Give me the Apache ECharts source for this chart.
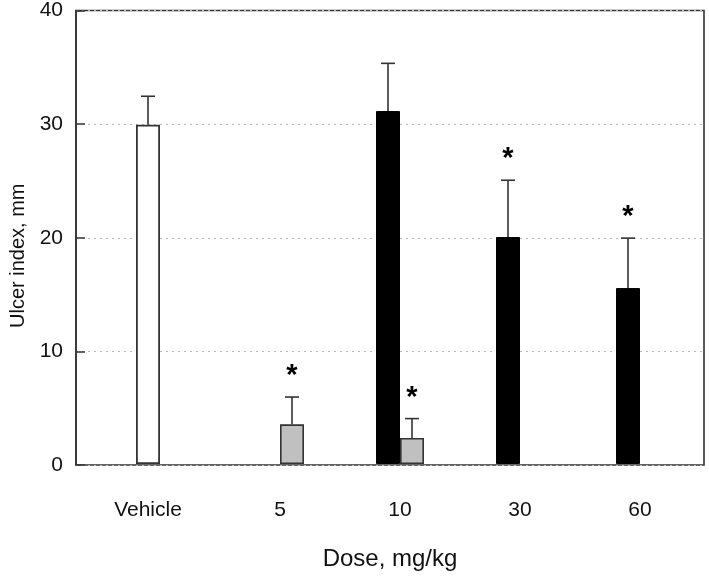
<!DOCTYPE html>
<html>
<head>
<meta charset="utf-8">
<script src="https://cdn.jsdelivr.net/npm/echarts@6/dist/echarts.min.js"></script>
<style>
html,body{margin:0;padding:0;background:#fff;}
#chart{width:709px;height:576px;}
</style>
</head>
<body>
<div id="chart"></div>
<script>
// ---- data ----
var categories = ['Vehicle', '5', '10', '30', '60'];
var mainMean = [29.9, null, 31.1, 20.0, 15.5];   // Vehicle (white) and black bars
var mainSem  = [2.5, null, 4.2, 5.0, 4.4];
var mainSig  = [false, false, false, true, true];
var greyMean = [null, 3.5, 2.3, null, null];      // grey bars
var greySem  = [null, 2.4, 1.7, null, null];
var greySig  = [false, true, true, false, false];

var FONT = '"Liberation Sans", Arial, sans-serif';

var mainData = mainMean.map(function (v, i) {
  if (v == null) return '-';
  return {
    value: v,
    itemStyle: i === 0 ? { color: '#ffffff', borderColor: '#333', borderWidth: 1.8 }
                       : { color: '#000000', borderColor: '#000', borderWidth: 1 }
  };
});
var greyData = greyMean.map(function (v) { return v == null ? '-' : v; });

var errData = [];
mainMean.forEach(function (v, i) {
  if (v != null) errData.push([i, v, v + mainSem[i], -1, mainSig[i] ? 1 : 0]);
});
greyMean.forEach(function (v, i) {
  if (v != null) errData.push([i, v, v + greySem[i], 1, greySig[i] ? 1 : 0]);
});

function renderErr(params, api) {
  var cat = api.value(0), mean = api.value(1), top = api.value(2), side = api.value(3), sig = api.value(4);
  var p0 = api.coord([cat, mean]);
  var p1 = api.coord([cat, top]);
  var x = p0[0] + side * 12;
  var children = [
    { type: 'line', shape: { x1: x, y1: p0[1], x2: x, y2: p1[1] }, style: { stroke: '#333', lineWidth: 1.6 } },
    { type: 'line', shape: { x1: x - 7, y1: p1[1], x2: x + 7, y2: p1[1] }, style: { stroke: '#333', lineWidth: 1.6 } }
  ];
  if (sig) {
    children.push({
      type: 'text',
      style: { text: '*', x: x, y: p1[1] - 21, align: 'center', verticalAlign: 'middle',
               font: 'bold 29px ' + FONT, fill: '#000' }
    });
  }
  return { type: 'group', children: children };
}

var chart = echarts.init(document.getElementById('chart'), null, { renderer: 'canvas' });
chart.setOption({
  backgroundColor: '#fff',
  animation: false,
  grid: [
    { left: 76, top: 10, width: 628, height: 455, show: true, borderColor: '#333', borderWidth: 1.6, backgroundColor: 'transparent' },
    { left: 100, top: 10, width: 600, height: 455 }
  ],
  xAxis: [
    { gridIndex: 0, type: 'value', min: 0, max: 1, show: false },
    {
      gridIndex: 1, type: 'category', data: categories,
      axisLine: { show: false }, axisTick: { show: false },
      axisLabel: {
        interval: 0, hideOverlap: false,
        margin: 36, fontSize: 21, color: '#111', fontFamily: FONT,
        formatter: function (v) { return v === 'Vehicle' ? '{v|' + v + '}' : v; },
        rich: { v: { fontSize: 21, color: '#111', fontFamily: FONT, padding: [0, 24, 0, 0] } }
      },
      name: 'Dose, mg/kg', nameLocation: 'middle', nameGap: 83,
      nameTextStyle: { fontSize: 24, color: '#111', fontFamily: FONT, padding: [0, 20, 0, 0] }
    }
  ],
  yAxis: [
    {
      gridIndex: 0, type: 'value', min: 0, max: 40, interval: 10,
      axisLine: { show: true, lineStyle: { color: '#333', width: 1.6 } },
      axisTick: { show: true, inside: true, length: 9, lineStyle: { color: '#333', width: 1.5 } },
      axisLabel: { margin: 13, fontSize: 21, color: '#111', fontFamily: FONT },
      splitLine: { show: true, lineStyle: { color: '#bbb', type: [2, 4], width: 1 } },
      name: 'Ulcer index, mm', nameLocation: 'middle', nameGap: 48, nameRotate: 90,
      nameTextStyle: { fontSize: 20, color: '#111', fontFamily: FONT, padding: [0, 36, 0, 0] }
    },
    { gridIndex: 1, type: 'value', min: 0, max: 40, interval: 10, show: false, splitLine: { show: false } }
  ],
  series: [
    { type: 'bar', xAxisIndex: 1, yAxisIndex: 1, data: mainData, barWidth: 24, barGap: '0%', z: 3 },
    { type: 'bar', xAxisIndex: 1, yAxisIndex: 1, data: greyData, barWidth: 24, barGap: '0%', z: 3,
      itemStyle: { color: '#c0c0c0', borderColor: '#333', borderWidth: 1.6 } },
    { type: 'custom', xAxisIndex: 1, yAxisIndex: 1, data: errData, renderItem: renderErr, z: 4 }
  ]
});
</script>
</body>
</html>
